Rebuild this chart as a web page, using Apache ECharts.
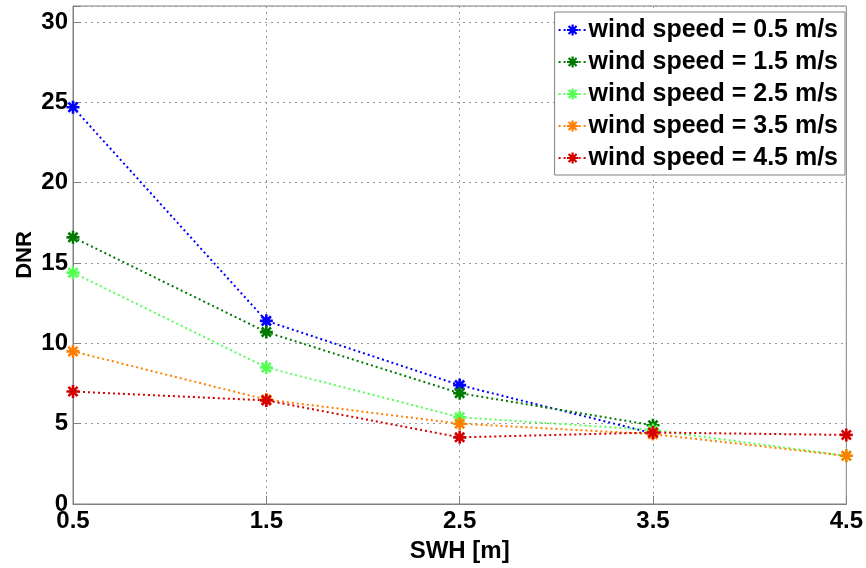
<!DOCTYPE html>
<html>
<head>
<meta charset="utf-8">
<script src="https://cdn.jsdelivr.net/npm/echarts@6/dist/echarts.min.js"></script>
<style>
  html, body { margin: 0; padding: 0; background: #fff; }
  #chart { width: 866px; height: 568px; }
</style>
</head>
<body>
<div id="chart"></div>
<script>
  // SWH categories and DNR values per wind speed
  const swh = ['0.5', '1.5', '2.5', '3.5', '4.5']
  const wind05 = [24.7, 11.4, 7.4, 4.4, null]
  const wind15 = [16.6, 10.7, 6.9, 4.9, null]
  const wind25 = [14.4, 8.5, 5.4, 4.6, 3.0]
  const wind35 = [9.5, 6.5, 5.0, 4.35, 3.0]
  const wind45 = [7.0, 6.45, 4.15, 4.45, 4.3]
  const names = ['wind speed = 0.5 m/s', 'wind speed = 1.5 m/s', 'wind speed = 2.5 m/s',
    'wind speed = 3.5 m/s', 'wind speed = 4.5 m/s']
  const colors = ['#0000ff', '#007a00', '#55ff55', '#ff8000', '#d40000']

  // matlab style "*" marker
  const star = 'path://M-1,-5L1,-5L1,5L-1,5Z M-5,-1L5,-1L5,1L-5,1Z ' +
    'M-4.24,-2.83L-2.83,-4.24L4.24,2.83L2.83,4.24Z M-4.24,2.83L2.83,-4.24L4.24,-2.83L-2.83,4.24Z'

  const font = 'Liberation Sans, Arial, sans-serif'

  const makeSeries = (data, i) => ({
    name: names[i],
    type: 'line',
    data: data,
    symbol: star,
    symbolSize: 13,
    showSymbol: true,
    itemStyle: { color: colors[i] },
    lineStyle: { color: colors[i], width: 2, type: [2, 3] },
    animation: false
  })

  const chart = echarts.init(document.getElementById('chart'))
  chart.setOption({
    grid: {
      left: 73, right: 19, top: 6, bottom: 63,
      show: true, borderColor: '#808080', borderWidth: 1
    },
    legend: {
      orient: 'vertical',
      right: 21, top: 12,
      padding: [5, 7, 4, 3],
      itemGap: 6,
      itemWidth: 28,
      itemHeight: 14,
      backgroundColor: '#fff',
      borderColor: '#808080',
      borderWidth: 1,
      textStyle: { fontFamily: font, fontWeight: 'bold', fontSize: 25, color: '#000', lineHeight: 26, padding: [0, 0, 0, -3] },
      data: names
    },
    xAxis: {
      type: 'category',
      boundaryGap: false,
      data: swh,
      name: 'SWH [m]',
      nameLocation: 'middle',
      nameGap: 35,
      nameTextStyle: { fontFamily: font, fontWeight: 'bold', fontSize: 24, color: '#000' },
      axisLine: { lineStyle: { color: '#808080' } },
      axisTick: { inside: true, length: 8, lineStyle: { color: '#808080' } },
      axisLabel: { fontFamily: font, fontWeight: 'bold', fontSize: 24, color: '#000', margin: 5 },
      splitLine: { show: true, lineStyle: { color: '#9a9a9a', type: [2, 4] } }
    },
    yAxis: {
      type: 'value',
      min: 0, max: 31, interval: 5,
      name: 'DNR',
      nameLocation: 'middle',
      nameGap: 37,
      nameMoveOverlap: false,
      nameTextStyle: { fontFamily: font, fontWeight: 'bold', fontSize: 22, color: '#000' },
      axisLine: { show: true, lineStyle: { color: '#808080' } },
      axisTick: { show: true, inside: true, length: 8, lineStyle: { color: '#808080' } },
      axisLabel: {
        fontFamily: font, fontWeight: 'bold', fontSize: 24, color: '#000', margin: 5,
        formatter: v => (v % 5 === 0 ? String(v) : '')
      },
      splitLine: { show: true, lineStyle: { color: '#9a9a9a', type: [2, 4] } }
    },
    series: [wind05, wind15, wind25, wind35, wind45].map(makeSeries)
  })
</script>
</body>
</html>
